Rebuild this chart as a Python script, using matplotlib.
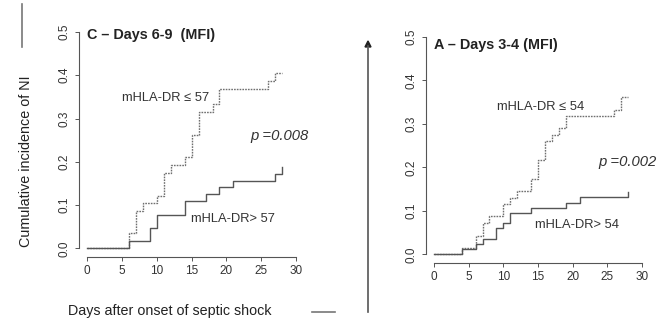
import matplotlib
matplotlib.use("Agg")
import matplotlib.pyplot as plt
from matplotlib.lines import Line2D

plt.rcParams['font.family'] = ['Liberation Sans', 'DejaVu Sans']

W, H = 664, 324

# panel C - days 6-9
c_low_t = [0, 6, 7, 8, 10, 11, 12, 14, 15, 16, 18, 19, 26, 27, 28]
c_low_y = [0, 0.035, 0.087, 0.105, 0.122, 0.174, 0.192, 0.210, 0.263, 0.316, 0.333, 0.368, 0.386, 0.404, 0.404]
c_high_t = [0, 6, 9, 10, 14, 17, 19, 21, 27, 28]
c_high_y = [0, 0.016, 0.047, 0.078, 0.109, 0.125, 0.141, 0.156, 0.172, 0.188]

# panel A - days 3-4
a_low_t = [0, 4, 6, 7, 8, 10, 11, 12, 14, 15, 16, 17, 18, 19, 26, 27, 28]
a_low_y = [0, 0.014, 0.043, 0.072, 0.087, 0.116, 0.130, 0.145, 0.174, 0.217, 0.261, 0.275, 0.290, 0.319, 0.333, 0.362, 0.362]
a_high_t = [0, 4, 6, 7, 9, 10, 11, 14, 19, 21, 28]
a_high_y = [0, 0.012, 0.024, 0.036, 0.060, 0.071, 0.095, 0.107, 0.119, 0.131, 0.143]

x_ticks = [0, 5, 10, 15, 20, 25, 30]
y_ticks = [0.0, 0.1, 0.2, 0.3, 0.4, 0.5]
y_ticklabels = ["0.0", "0.1", "0.2", "0.3", "0.4", "0.5"]


def fx(x):
    return x / W


def fy(y):
    return 1 - y / H


def panel(rect, low_t, low_y, high_t, high_y, title, low_lab, high_lab, pval,
          low_pos, high_pos, p_pos, title_pos):
    ax = fig.add_axes(rect)
    ax.step(low_t, low_y, where='post', color='#707070', lw=1.0, linestyle=(0, (1.2, 0.8)))
    ax.step(high_t, high_y, where='post', color='#555555', lw=1.0)
    ax.set_xlim(-1.2, 31.2)
    ax.set_ylim(-0.02, 0.52)
    for s in ['top', 'right']:
        ax.spines[s].set_visible(False)
    ax.spines['left'].set_bounds(0, 0.5)
    ax.spines['bottom'].set_bounds(0, 30)
    for s in ['left', 'bottom']:
        ax.spines[s].set_color('#555555')
        ax.spines[s].set_linewidth(0.8)
    ax.set_xticks(x_ticks)
    ax.set_yticks(y_ticks)
    ax.set_yticklabels(y_ticklabels, rotation=90, va='center')
    ax.tick_params(colors='#555555', labelcolor='#333333', labelsize=8.5,
                   length=3, width=0.7, pad=3)
    fig.text(fx(title_pos[0]), fy(title_pos[1]), title, fontsize=10.4, fontweight='bold',
             ha='left', va='center', color='#222222')
    fig.text(fx(low_pos[0]), fy(low_pos[1]), low_lab, fontsize=9.3, ha='center', va='center', color='#333333')
    fig.text(fx(high_pos[0]), fy(high_pos[1]), high_lab, fontsize=9.3, ha='center', va='center', color='#333333')
    fig.text(fx(p_pos[0]), fy(p_pos[1]), pval, fontsize=10.7, style='italic', ha='center', va='center', color='#333333')
    return ax


fig = plt.figure(figsize=(W / 100, H / 100), dpi=100)

panel([0.1188, 0.2068, 0.3396, 0.7213], c_low_t, c_low_y, c_high_t, c_high_y,
      "C \u2013 Days 6-9  (MFI)", "mHLA-DR \u2264 57", "mHLA-DR> 57", "p =0.008",
      (166, 98), (233, 219), (280, 136), (87, 35))
panel([0.6411, 0.1883, 0.3383, 0.7244], a_low_t, a_low_y, a_high_t, a_high_y,
      "A \u2013 Days 3-4 (MFI)", "mHLA-DR \u2264 54", "mHLA-DR> 54", "p =0.002",
      (541, 107), (577, 225), (627, 162), (434, 45))

fig.text(fx(26), fy(161), "Cumulative incidence of NI", rotation=90, fontsize=10.4,
         ha='center', va='center', color='#222222')
fig.text(fx(170), fy(311), "Days after onset of septic shock", fontsize=10.3,
         ha='center', va='center', color='#222222')

# stray marks from the page
fig.add_artist(Line2D([fx(22), fx(22)], [fy(4), fy(47)], color='#777777', lw=1.2))
fig.add_artist(Line2D([fx(312), fx(335)], [fy(312), fy(312)], color='#777777', lw=1.2))
fig.add_artist(Line2D([fx(368), fx(368)], [fy(312), fy(46)], color='#555555', lw=1.2))
fig.patches.append(matplotlib.patches.FancyArrow(
    fx(368), fy(47), 0, 0.0001, width=0, head_width=fx(6), head_length=6 / H,
    length_includes_head=False, color='#222222', transform=fig.transFigure, figure=fig))

fig.savefig("out.png", dpi=100)
